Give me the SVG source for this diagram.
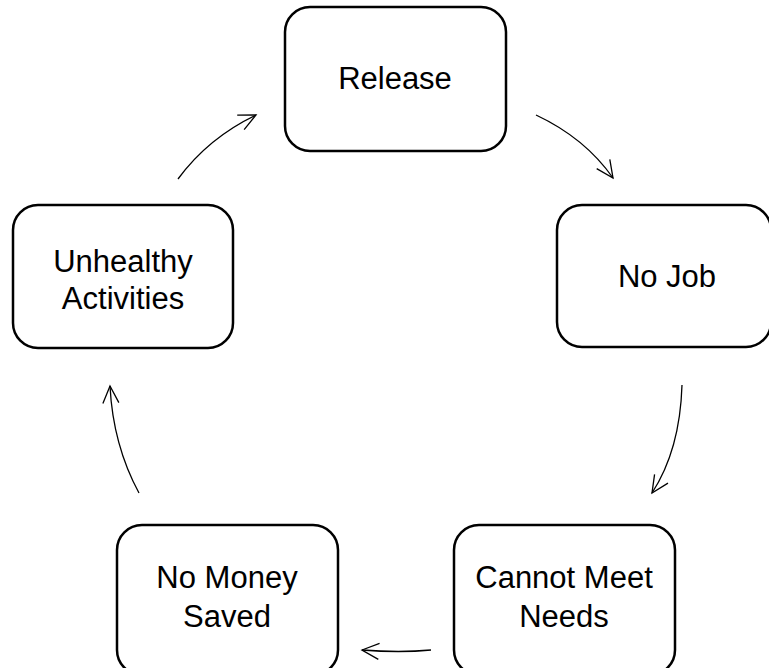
<svg xmlns="http://www.w3.org/2000/svg" width="769" height="668" viewBox="0 0 769 668">
<style>
.box{fill:#fff;stroke:#000;stroke-width:2.5}
.lbl{font-family:"Liberation Sans",Arial,sans-serif;font-size:31px;fill:#000;text-anchor:middle}
.con{fill:none;stroke:#000;stroke-width:1.3;marker-end:url(#ah)}
</style>
<defs>
<marker id="ah" markerUnits="userSpaceOnUse" markerWidth="40" markerHeight="40" viewBox="-20 -20 40 40" refX="0" refY="0" orient="auto" overflow="visible">
<path d="M-17,-8 L0,0 L-17,8" fill="none" stroke="#000" stroke-width="1.3"/>
</marker>
</defs>
<rect width="769" height="668" fill="#fff"/>
<g id="release">
<rect class="box" x="285" y="7" width="221" height="144" rx="25"/>
<text class="lbl" x="395" y="89">Release</text>
</g>
<g id="nojob">
<rect class="box" x="557" y="205" width="214" height="142" rx="25"/>
<text class="lbl" x="667" y="287">No Job</text>
</g>
<g id="cannot">
<rect class="box" x="454" y="525" width="221" height="150" rx="25"/>
<text class="lbl" x="564" y="588">Cannot Meet</text>
<text class="lbl" x="564" y="627">Needs</text>
</g>
<g id="nomoney">
<rect class="box" x="117" y="525" width="221" height="150" rx="25"/>
<text class="lbl" x="227" y="588">No Money</text>
<text class="lbl" x="227" y="627">Saved</text>
</g>
<g id="unhealthy">
<rect class="box" x="13" y="205" width="220" height="143" rx="25"/>
<text class="lbl" x="123" y="272">Unhealthy</text>
<text class="lbl" x="123" y="309">Activities</text>
</g>
<g id="connectors">
<path class="con" d="M536,115 Q585,138 613,178"/>
<path class="con" d="M682,385 Q680,450 652,493"/>
<path class="con" d="M431,650 Q400,653 362,650"/>
<path class="con" d="M139,493 Q113,445 110,386"/>
<path class="con" d="M178,179 Q208,138 256,115"/>
</g>
</svg>
